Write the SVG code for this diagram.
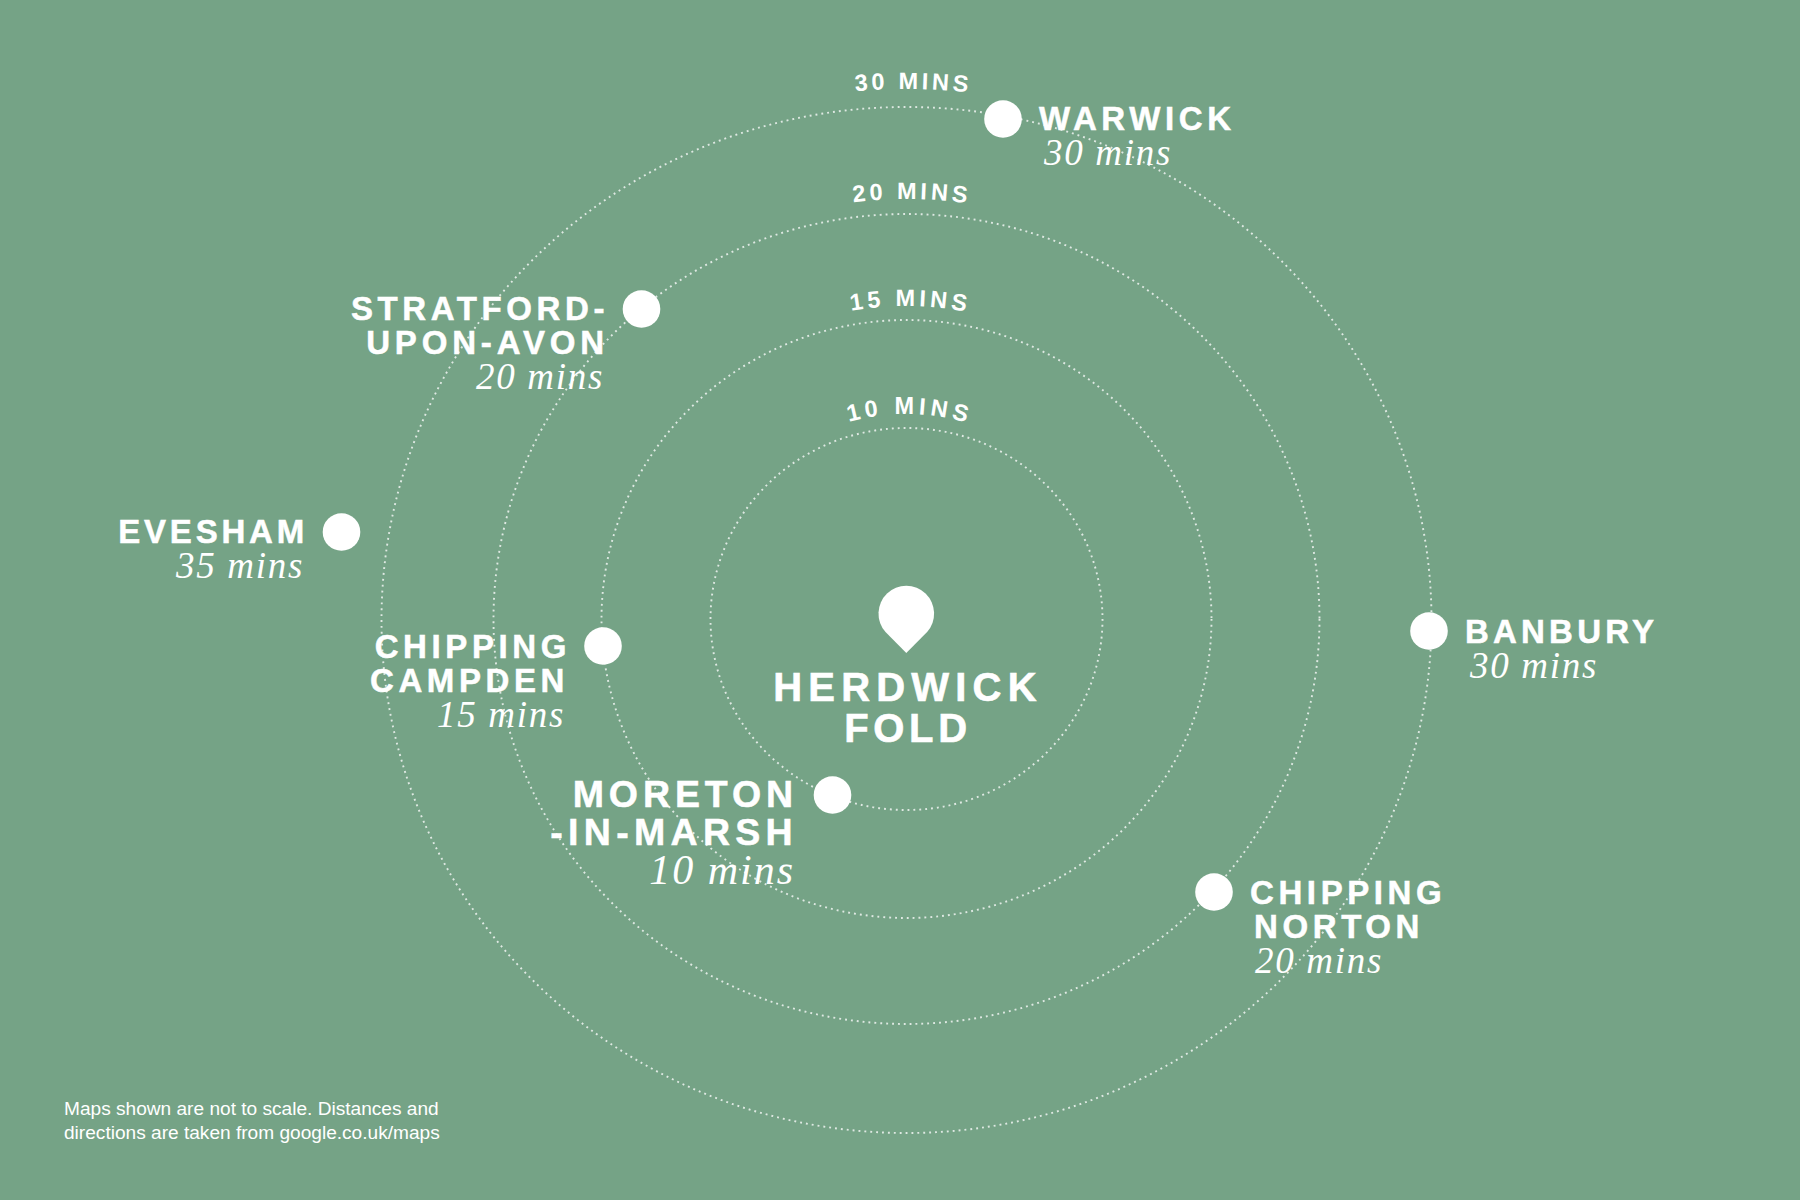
<svg xmlns="http://www.w3.org/2000/svg" width="1800" height="1200" viewBox="0 0 1800 1200">
<style>
.ring{fill:none;stroke:#dfe9e3;stroke-width:1.900;stroke-dasharray:1.900 4}
.dot{fill:#fff}
.n{font-family:"Liberation Sans",Arial,sans-serif;font-weight:700;font-size:33px;letter-spacing:4.600px;fill:#fff;stroke:#fff;stroke-width:.5}
.m{font-size:37.500px;letter-spacing:5.300px}
.t{font-family:"Liberation Serif","Times New Roman",serif;font-style:italic;font-size:37px;letter-spacing:1.700px;fill:#fff}
.t2{font-size:42px;letter-spacing:2px}
.r{text-anchor:end}
.a{font-family:"Liberation Sans",Arial,sans-serif;font-weight:700;font-size:23.500px;fill:#fff;text-anchor:middle}
.h{font-family:"Liberation Sans",Arial,sans-serif;font-weight:700;font-size:40px;letter-spacing:6.200px;fill:#fff;stroke:#fff;stroke-width:.6;text-anchor:middle}
.f{font-family:"Liberation Sans",Arial,sans-serif;font-size:19.100px;fill:#fff}
</style>
<defs>
<path id="p10" d="M696.500 619A210 205 0 0 1 1116.500 619"/>
<path id="p15" d="M587.500 619A319 313 0 0 1 1225.500 619"/>
<path id="p20" d="M479.500 619A427 420 0 0 1 1333.500 619"/>
<path id="p30" d="M367.500 620A539 531 0 0 1 1445.500 620"/>
</defs>
<rect width="1800" height="1200" fill="#75a386"/>
<g id="connectors">
<ellipse class="ring" cx="906.500" cy="619" rx="196" ry="191"/>
<ellipse class="ring" cx="906.500" cy="619" rx="305" ry="299"/>
<ellipse class="ring" cx="906.500" cy="619" rx="413" ry="405"/>
<ellipse class="ring" cx="906.500" cy="620" rx="525" ry="513"/>
</g>
<g id="ring-labels">
<text class="a" letter-spacing="4.600"><textPath href="#p10" startOffset="50.500%">10 MINS</textPath></text>
<text class="a" letter-spacing="4"><textPath href="#p15" startOffset="50.400%">15 MINS</textPath></text>
<text class="a" letter-spacing="3.700"><textPath href="#p20" startOffset="50.400%">20 MINS</textPath></text>
<text class="a" letter-spacing="3.500"><textPath href="#p30" startOffset="50.400%">30 MINS</textPath></text>
</g>
<g id="herdwick-fold">
<path class="dot" d="M906.300 653L885.500 632A27.800 27.800 0 1 1 927.100 632Z"/>
<text class="h" x="908" y="701">HERDWICK</text>
<text class="h" x="908" y="742" style="letter-spacing:4.700px">FOLD</text>
</g>
<g id="warwick"><circle class="dot" cx="1003" cy="119" r="18.800"/><text class="n" x="1039" y="130">WARWICK</text><text class="t" x="1044" y="165">30 mins</text></g>
<g id="stratford"><circle class="dot" cx="641.500" cy="309" r="18.800"/><text class="n r" x="609" y="320">STRATFORD-</text><text class="n r" x="609" y="354" style="letter-spacing:4.850px">UPON-AVON</text><text class="t r" x="604" y="389">20 mins</text></g>
<g id="evesham"><circle class="dot" cx="341.500" cy="532" r="18.800"/><text class="n r" x="308" y="543" style="letter-spacing:3.800px">EVESHAM</text><text class="t r" x="304" y="578">35 mins</text></g>
<g id="chipping-campden"><circle class="dot" cx="603" cy="646" r="18.800"/><text class="n r" x="571" y="658">CHIPPING</text><text class="n r" x="569" y="692">CAMPDEN</text><text class="t r" x="565" y="727">15 mins</text></g>
<g id="moreton"><circle class="dot" cx="832.500" cy="795" r="18.800"/><text class="n m r" x="798" y="806.500" style="letter-spacing:4.900px">MORETON</text><text class="n m r" x="798" y="845">-IN-MARSH</text><text class="t t2 r" x="795" y="884">10 mins</text></g>
<g id="banbury"><circle class="dot" cx="1429" cy="631" r="18.800"/><text class="n" x="1465" y="642.500" style="letter-spacing:4.200px">BANBURY</text><text class="t" x="1470" y="678">30 mins</text></g>
<g id="chipping-norton"><circle class="dot" cx="1214" cy="892" r="18.800"/><text class="n" x="1250" y="904">CHIPPING</text><text class="n" x="1254" y="938">NORTON</text><text class="t" x="1255" y="973">20 mins</text></g>
<g id="note"><text class="f" x="64" y="1115">Maps shown are not to scale. Distances and</text><text class="f" x="64" y="1139">directions are taken from google.co.uk/maps</text></g>
</svg>
